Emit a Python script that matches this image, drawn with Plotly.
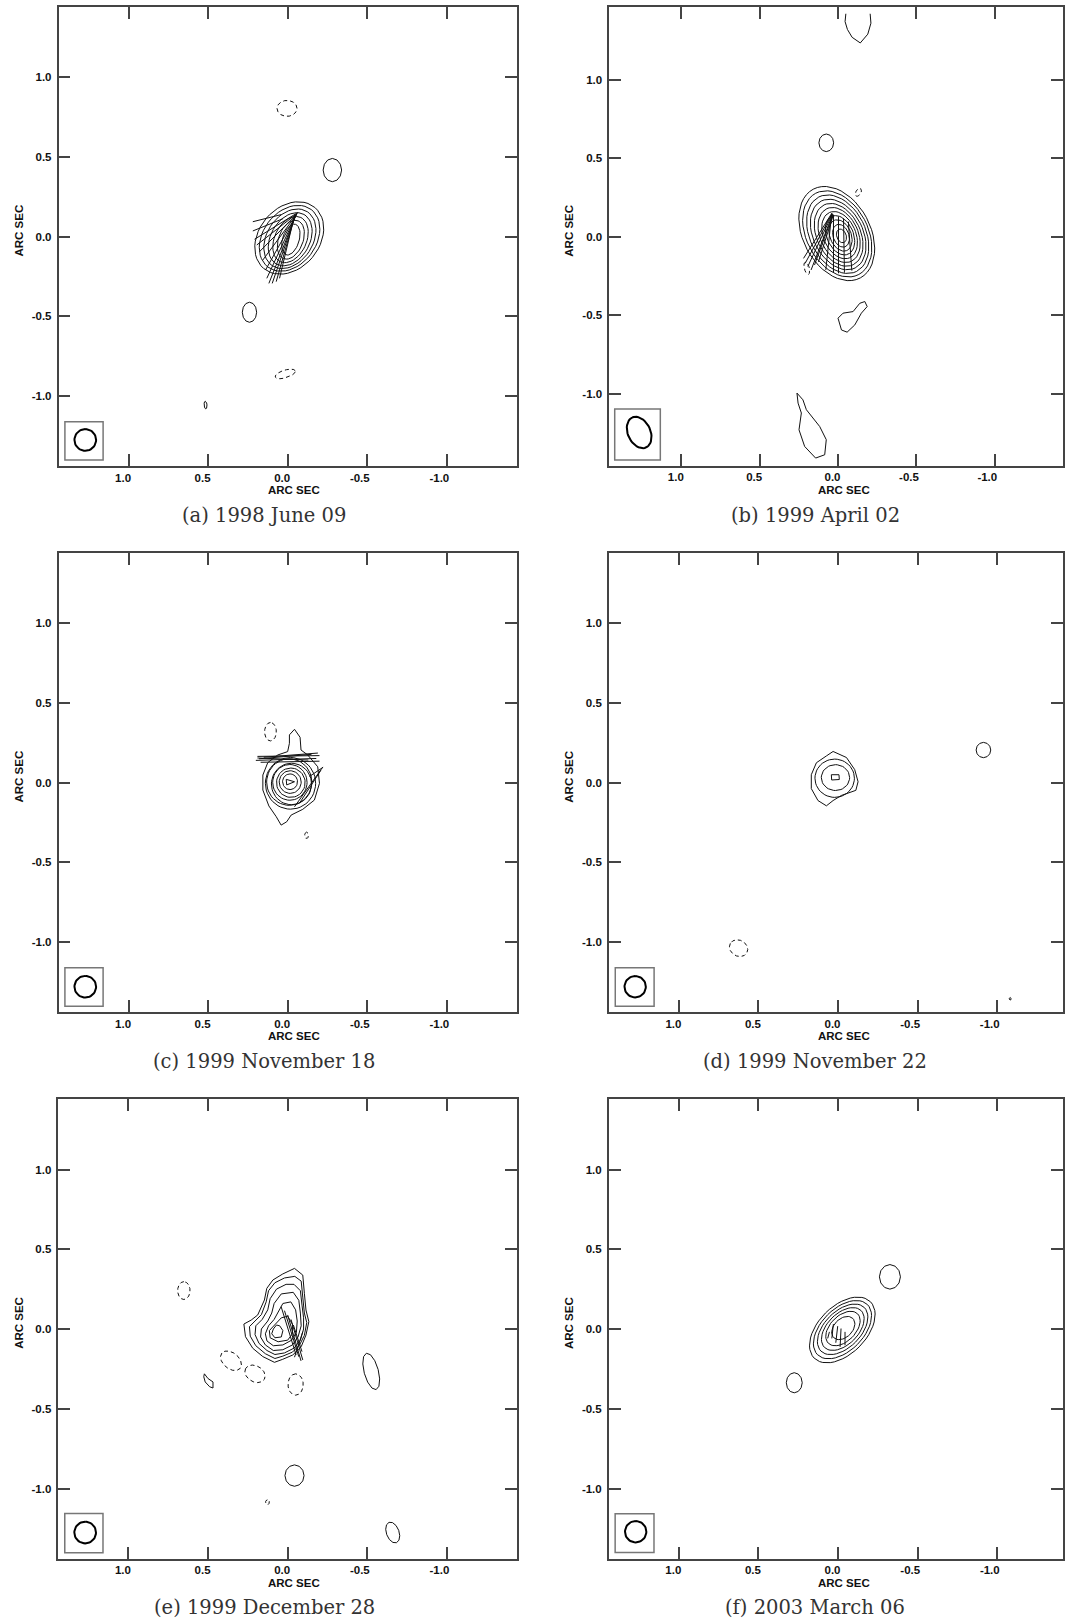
import numpy as np
import plotly.graph_objects as go

# ---------------------------------------------------------------------------
# Map data. Offsets in arcsec: x = RA offset (east positive, drawn to the left),
# y = Dec offset. Ellipses are (cx, cy, semi-major, semi-minor, PA deg E of N).
# Vectors are (x0, y0, x1, y1). Free-form contours are vertex lists.
# ---------------------------------------------------------------------------
captions = ["(a) 1998 June 09", "(b) 1999 April 02", "(c) 1999 November 18",
            "(d) 1999 November 22", "(e) 1999 December 28", "(f) 2003 March 06"]

tick_vals = [-1.0, -0.5, 0.0, 0.5, 1.0]
tick_text = ["-1.0", "-0.5", "0.0", "0.5", "1.0"]

# restoring beam per epoch and the box drawn round it (x east, x west, y low, y high)
beams = [(1.272, -1.275, 0.068, 0.068, 0), (1.269, -1.247, 0.105, 0.072, 25),
         (1.272, -1.280, 0.068, 0.068, 0), (1.275, -1.280, 0.067, 0.067, 0),
         (1.272, -1.276, 0.068, 0.068, 0), (1.271, -1.271, 0.067, 0.067, 0)]
beam_boxes = [(1.400, 1.160, -1.401, -1.161), (1.425, 1.134, -1.423, -1.098),
              (1.400, 1.160, -1.403, -1.161), (1.400, 1.156, -1.403, -1.161),
              (1.400, 1.160, -1.403, -1.157), (1.400, 1.156, -1.401, -1.158)]

# (a) 1998 June 09
a_rings = [(-0.010, -0.008, 0.250, 0.190, -40), (-0.012, -0.010, 0.226, 0.167, -37),
           (-0.014, -0.013, 0.202, 0.145, -33), (-0.016, -0.016, 0.178, 0.123, -29),
           (-0.018, -0.018, 0.153, 0.100, -25), (-0.020, -0.019, 0.127, 0.077, -21),
           (-0.020, -0.018, 0.100, 0.052, -17)]
a_pos_islands = [(-0.281, 0.418, 0.073, 0.058, 0), (0.240, -0.474, 0.063, 0.045, 0),
                 (0.516, -1.056, 0.024, 0.009, 5)]
a_neg_islands = [(0.004, 0.805, 0.063, 0.050, 90), (0.015, -0.861, 0.066, 0.024, -73)]
a_pos_lines = []
a_vectors = [(0.219, 0.094, 0.039, 0.139), (0.219, 0.036, 0.029, 0.113),
             (-0.063, 0.151, 0.208, -0.016), (-0.062, 0.148, 0.194, -0.052),
             (-0.060, 0.145, 0.177, -0.094), (-0.058, 0.142, 0.156, -0.146),
             (-0.056, 0.140, 0.139, -0.209), (-0.054, 0.138, 0.131, -0.261),
             (-0.052, 0.135, 0.118, -0.293), (-0.048, 0.130, 0.097, -0.293),
             (-0.044, 0.125, 0.072, -0.282), (-0.040, 0.120, 0.051, -0.261)]

# (b) 1999 April 02
b_rings = [(0.008, 0.020, 0.320, 0.215, 28), (0.005, 0.018, 0.293, 0.196, 28),
           (0.002, 0.016, 0.266, 0.177, 27), (-0.001, 0.014, 0.239, 0.158, 27),
           (-0.004, 0.012, 0.212, 0.139, 26), (-0.007, 0.011, 0.185, 0.121, 25),
           (-0.010, 0.010, 0.158, 0.103, 24), (-0.013, 0.009, 0.131, 0.085, 23),
           (-0.016, 0.008, 0.104, 0.068, 22), (-0.019, 0.006, 0.075, 0.050, 20),
           (-0.022, 0.005, 0.045, 0.030, 20)]
b_pos_islands = [(0.075, 0.598, 0.056, 0.047, 0)]
b_neg_islands = [(-0.130, 0.283, 0.028, 0.016, 150), (0.199, -0.201, 0.040, 0.016, 15)]
b_pos_lines = [
    [(-0.050, 1.420), (-0.045, 1.370), (-0.060, 1.320), (-0.090, 1.270), (-0.142, 1.234),
     (-0.190, 1.290), (-0.210, 1.360), (-0.205, 1.420)],
    [(0.000, -0.519), (-0.022, -0.594), (-0.058, -0.608), (-0.107, -0.562), (-0.149, -0.487),
     (-0.186, -0.445), (-0.171, -0.413), (-0.139, -0.424), (-0.096, -0.477), (-0.032, -0.487),
     (0.000, -0.519)],
    [(0.262, -0.996), (0.224, -1.039), (0.202, -1.102), (0.117, -1.209), (0.075, -1.293),
     (0.085, -1.389), (0.143, -1.410), (0.213, -1.336), (0.249, -1.230), (0.234, -1.123),
     (0.255, -1.060), (0.262, -0.996)],
]
b_vectors = [(0.040, 0.149, 0.220, -0.138), (0.038, 0.147, 0.210, -0.170),
             (0.036, 0.145, 0.193, -0.190), (0.034, 0.143, 0.172, -0.212),
             (0.032, 0.141, 0.150, -0.180), (0.030, 0.139, 0.125, -0.160),
             (0.040, 0.150, 0.078, -0.212), (0.029, 0.138, 0.029, -0.229),
             (-0.003, 0.128, -0.003, -0.233), (-0.035, 0.117, -0.041, -0.229),
             (-0.066, 0.096, -0.088, -0.216)]

# (c) 1999 November 18
c_rings = [(-0.018, -0.004, 0.162, 0.158, 0), (-0.010, 0.004, 0.146, 0.142, 0),
           (-0.024, -0.008, 0.130, 0.126, 0), (-0.014, 0.002, 0.112, 0.108, 0),
           (-0.020, 0.000, 0.092, 0.090, 0), (-0.016, 0.004, 0.071, 0.069, 0),
           (-0.015, 0.006, 0.049, 0.047, 0)]
c_pos_islands = []
c_neg_islands = [(0.108, 0.320, 0.058, 0.037, 0), (-0.119, -0.330, 0.020, 0.012, 0)]
c_pos_lines = [
    [(-0.043, 0.335), (-0.078, 0.285), (-0.084, 0.205), (-0.126, 0.174), (-0.189, 0.100),
     (-0.200, -0.004), (-0.168, -0.109), (-0.095, -0.167), (-0.022, -0.203), (0.006, -0.245),
     (0.041, -0.266), (0.072, -0.213), (0.118, -0.146), (0.156, -0.046), (0.156, 0.048),
     (0.125, 0.126), (0.062, 0.174), (0.000, 0.195), (-0.011, 0.247), (-0.011, 0.300),
     (-0.043, 0.335)],
    [(0.009, 0.021), (-0.043, 0.006), (0.006, -0.014), (0.009, 0.021)],
]
c_vectors = [(0.190, 0.165, -0.200, 0.170), (0.180, 0.150, -0.150, 0.178),
             (0.200, 0.140, -0.180, 0.152), (0.170, 0.128, -0.200, 0.135),
             (0.190, 0.155, -0.130, 0.142), (0.150, 0.160, -0.190, 0.186),
             (-0.043, -0.151, -0.220, 0.097), (-0.074, -0.129, -0.209, 0.078),
             (-0.137, 0.039, -0.223, 0.097)]

# (d) 1999 November 22
d_rings = [(0.021, 0.028, 0.124, 0.120, 90), (0.016, 0.032, 0.089, 0.081, 90)]
d_pos_islands = [(-0.914, 0.205, 0.048, 0.046, 0), (-1.082, -1.356, 0.008, 0.006, 0)]
d_neg_islands = [(0.625, -1.038, 0.060, 0.050, 60)]
d_pos_lines = [
    [(0.031, 0.196), (-0.053, 0.158), (-0.105, 0.082), (-0.126, 0.006), (-0.112, -0.048),
     (-0.021, -0.080), (0.031, -0.112), (0.073, -0.145), (0.126, -0.112), (0.168, -0.037),
     (0.168, 0.050), (0.136, 0.125), (0.073, 0.168), (0.031, 0.196)],
    [(0.042, 0.050), (-0.006, 0.050), (-0.008, 0.020), (0.040, 0.017), (0.042, 0.050)],
]
d_vectors = []

# (e) 1999 December 28
e_rings = []
e_pos_islands = [(-0.525, -0.266, 0.118, 0.045, 15), (-0.043, -0.919, 0.067, 0.060, 0),
                 (-0.660, -1.276, 0.068, 0.040, 20)]
e_neg_islands = [(0.652, 0.241, 0.056, 0.039, 0), (0.356, -0.199, 0.075, 0.050, 50),
                 (0.205, -0.281, 0.068, 0.050, 60), (-0.050, -0.348, 0.067, 0.048, 0),
                 (0.127, -1.086, 0.015, 0.012, 0)]
e_pos_lines = [
    [(-0.043, 0.380), (-0.095, 0.338), (-0.105, 0.224), (-0.115, 0.119), (-0.133, 0.046),
     (-0.115, -0.038), (-0.085, -0.111), (-0.032, -0.163), (0.031, -0.190), (0.083, -0.209),
     (0.156, -0.173), (0.219, -0.121), (0.265, -0.048), (0.275, 0.031), (0.229, 0.056),
     (0.188, 0.088), (0.146, 0.182), (0.131, 0.255), (0.093, 0.307), (0.031, 0.345),
     (-0.043, 0.380)],
    [(-0.045, 0.330), (-0.085, 0.300), (-0.095, 0.200), (-0.105, 0.100), (-0.120, 0.040),
     (-0.105, -0.040), (-0.075, -0.100), (-0.030, -0.145), (0.030, -0.170), (0.080, -0.185),
     (0.140, -0.155), (0.200, -0.105), (0.235, -0.045), (0.240, 0.015), (0.205, 0.050),
     (0.165, 0.090), (0.135, 0.170), (0.120, 0.240), (0.080, 0.290), (0.020, 0.320),
     (-0.045, 0.330)],
    [(-0.040, 0.280), (-0.080, 0.240), (-0.090, 0.150), (-0.100, 0.070), (-0.100, 0.000),
     (-0.080, -0.070), (-0.040, -0.120), (0.020, -0.150), (0.080, -0.160), (0.130, -0.135),
     (0.180, -0.090), (0.205, -0.035), (0.200, 0.020), (0.160, 0.060), (0.125, 0.120),
     (0.110, 0.190), (0.070, 0.250), (0.010, 0.280), (-0.040, 0.280)],
    [(-0.035, 0.230), (-0.070, 0.180), (-0.080, 0.100), (-0.085, 0.020), (-0.065, -0.050),
     (-0.030, -0.100), (0.030, -0.130), (0.090, -0.135), (0.140, -0.100), (0.170, -0.050),
     (0.165, 0.000), (0.125, 0.050), (0.100, 0.100), (0.085, 0.160), (0.040, 0.220),
     (-0.035, 0.230)],
    [(-0.020, 0.170), (-0.050, 0.120), (-0.060, 0.050), (-0.055, -0.020), (-0.025, -0.070),
     (0.030, -0.100), (0.090, -0.105), (0.130, -0.075), (0.140, -0.030), (0.120, 0.020),
     (0.085, 0.060), (0.060, 0.110), (0.030, 0.160), (-0.020, 0.170)],
    [(0.000, 0.080), (-0.030, 0.030), (-0.030, -0.030), (0.000, -0.070), (0.060, -0.080),
     (0.110, -0.055), (0.115, -0.010), (0.080, 0.030), (0.040, 0.070), (0.000, 0.080)],
    [(0.050, 0.020), (0.030, -0.010), (0.040, -0.050), (0.080, -0.055), (0.100, -0.030),
     (0.090, 0.000), (0.070, 0.025), (0.050, 0.020)],
    [(0.523, -0.281), (0.501, -0.310), (0.469, -0.332), (0.469, -0.370), (0.490, -0.362),
     (0.518, -0.332), (0.527, -0.299), (0.523, -0.281)],
]
e_vectors = [(0.041, 0.140, -0.053, -0.163), (0.020, 0.115, -0.070, -0.174),
             (0.000, 0.088, -0.084, -0.200), (-0.021, 0.060, -0.095, -0.194),
             (-0.036, 0.025, -0.090, -0.142), (-0.095, -0.017, -0.043, -0.177)]

# (f) 2003 March 06
f_rings = [(-0.027, -0.006, 0.250, 0.150, -45), (-0.028, -0.004, 0.222, 0.132, -45),
           (-0.029, -0.002, 0.193, 0.114, -45), (-0.030, 0.000, 0.163, 0.097, -45),
           (-0.031, 0.003, 0.130, 0.080, -45), (-0.033, 0.006, 0.085, 0.058, -45)]
f_pos_islands = [(-0.326, 0.327, 0.077, 0.066, 0), (0.275, -0.337, 0.063, 0.050, 0)]
f_neg_islands = []
f_pos_lines = []
f_vectors = [(0.029, 0.031, 0.039, -0.059), (0.002, 0.018, 0.014, -0.086),
             (-0.019, 0.003, -0.013, -0.112), (-0.044, -0.018, -0.044, -0.102),
             (0.054, -0.018, 0.065, -0.059)]

# ---------------------------------------------------------------------------
# Page geometry (pixels)
# ---------------------------------------------------------------------------
W, H = 1065, 1618
col_zero = [288.2, 839.6]          # x pixel of the 0.0 offset in each column
row_zero = [236.7, 782.7, 1329.0]  # y pixel of the 0.0 offset in each row
scales = [159.4, 157.0, 159.4, 159.4, 159.5, 159.5]  # px per arcsec
half_ranges = [1.44, 1.46, 1.44, 1.44, 1.44, 1.44]
caption_x = [264.6, 817.0]
caption_y = [515.0, 1061.0, 1607.0]

INK = "#111111"
FRAME = "#444444"
SANS = "Liberation Sans, Arial, sans-serif"
TICK_FONT = dict(family=SANS, size=11.5, color=INK, weight="bold")
LABEL_FONT = dict(family=SANS, size=11.5, color=INK, weight="bold")
CAPTION_FONT = dict(family="DejaVu Serif, serif", size=19.5, color="#333333")

panels = [
    (a_rings, a_pos_islands, a_neg_islands, a_pos_lines, a_vectors),
    (b_rings, b_pos_islands, b_neg_islands, b_pos_lines, b_vectors),
    (c_rings, c_pos_islands, c_neg_islands, c_pos_lines, c_vectors),
    (d_rings, d_pos_islands, d_neg_islands, d_pos_lines, d_vectors),
    (e_rings, e_pos_islands, e_neg_islands, e_pos_lines, e_vectors),
    (f_rings, f_pos_islands, f_neg_islands, f_pos_lines, f_vectors),
]


def ellipse_path(cx, cy, a, b, pa, n):
    t = np.linspace(0.0, 2.0 * np.pi, n + 1)
    p = np.radians(pa)
    ux, uy = np.sin(p), np.cos(p)
    vx, vy = np.cos(p), -np.sin(p)
    x = cx + a * np.cos(t) * ux + b * np.sin(t) * vx
    y = cy + a * np.cos(t) * uy + b * np.sin(t) * vy
    return list(x), list(y)


def join(paths):
    xs, ys = [], []
    for x, y in paths:
        xs += list(x) + [None]
        ys += list(y) + [None]
    return xs, ys


fig = go.Figure()
layout = dict(width=W, height=H, margin=dict(l=0, r=0, t=0, b=0),
              paper_bgcolor="white", plot_bgcolor="white", showlegend=False,
              hovermode=False)
annotations, shapes = [], []

for i, (rings, pos_isl, neg_isl, pos_lines, vectors) in enumerate(panels):
    col, row = i % 2, i // 2
    s, hr = scales[i], half_ranges[i]
    x0px = col_zero[col] - hr * s
    x1px = min(col_zero[col] + hr * s, W)
    y0px = row_zero[row] - hr * s
    y1px = row_zero[row] + hr * s
    xname = "x" if i == 0 else f"x{i + 1}"
    yname = "y" if i == 0 else f"y{i + 1}"
    axis_common = dict(tickvals=tick_vals, ticktext=tick_text, ticks="inside",
                       ticklen=12, tickwidth=1.5, tickcolor=FRAME, showline=True,
                       linecolor=FRAME, linewidth=1.5, mirror="ticks", showgrid=False,
                       zeroline=False, tickfont=TICK_FONT, fixedrange=True)
    # x labels are right-justified on their tick marks (axis runs east to west,
    # so a negative shift moves them rightwards on the page)
    layout["xaxis" if i == 0 else f"xaxis{i + 1}"] = dict(
        domain=[x0px / W, x1px / W], range=[hr, -(x1px - col_zero[col]) / s],
        anchor=yname, ticklabelposition="outside left", ticklabelstandoff=0,
        ticklabelshift=-4, **axis_common)
    layout["yaxis" if i == 0 else f"yaxis{i + 1}"] = dict(
        domain=[1 - y1px / H, 1 - y0px / H], range=[-hr, hr],
        anchor=xname, ticklabelstandoff=3, **axis_common)

    # positive (solid) contours
    paths = [ellipse_path(*r, 48) for r in rings]
    paths += [ellipse_path(*r, 12) for r in pos_isl]
    paths += [([p[0] for p in pl], [p[1] for p in pl]) for pl in pos_lines]
    if paths:
        xs, ys = join(paths)
        fig.add_trace(go.Scatter(x=xs, y=ys, mode="lines", xaxis=xname, yaxis=yname,
                                 line=dict(color=INK, width=1)))
    # negative (dashed) contours
    if neg_isl:
        xs, ys = join([ellipse_path(*r, 14) for r in neg_isl])
        fig.add_trace(go.Scatter(x=xs, y=ys, mode="lines", xaxis=xname, yaxis=yname,
                                 line=dict(color=INK, width=1, dash="4px,3px")))
    # polarization vectors
    if vectors:
        xs, ys = join([([v[0], v[2]], [v[1], v[3]]) for v in vectors])
        fig.add_trace(go.Scatter(x=xs, y=ys, mode="lines", xaxis=xname, yaxis=yname,
                                 line=dict(color=INK, width=1)))
    # restoring beam and its box
    bx, by = ellipse_path(*beams[i], 48)
    fig.add_trace(go.Scatter(x=bx, y=by, mode="lines", xaxis=xname, yaxis=yname,
                             line=dict(color="black", width=2)))
    xe, xw, yl, yh = beam_boxes[i]
    shapes.append(dict(type="rect", xref=xname, yref=yname, x0=xe, x1=xw, y0=yl, y1=yh,
                       line=dict(color="#777777", width=1.5)))

    # axis labels and caption
    annotations.append(dict(text="ARC SEC", x=(col_zero[col] + 6) / W, y=1 - (y1px + 24.0) / H,
                            xref="paper", yref="paper", showarrow=False, font=LABEL_FONT,
                            xanchor="center", yanchor="middle"))
    annotations.append(dict(text="ARC SEC", x=(18.9 + col * 551.2) / W,
                            y=1 - (row_zero[row] - 6) / H, xref="paper", yref="paper",
                            showarrow=False, font=LABEL_FONT, textangle=-90,
                            xanchor="center", yanchor="middle"))
    annotations.append(dict(text=captions[i], x=caption_x[col] / W, y=1 - caption_y[row] / H,
                            xref="paper", yref="paper", showarrow=False, font=CAPTION_FONT,
                            xanchor="center", yanchor="middle"))

layout["annotations"] = annotations
layout["shapes"] = shapes
fig.update_layout(**layout)
fig.write_html("out.html")
